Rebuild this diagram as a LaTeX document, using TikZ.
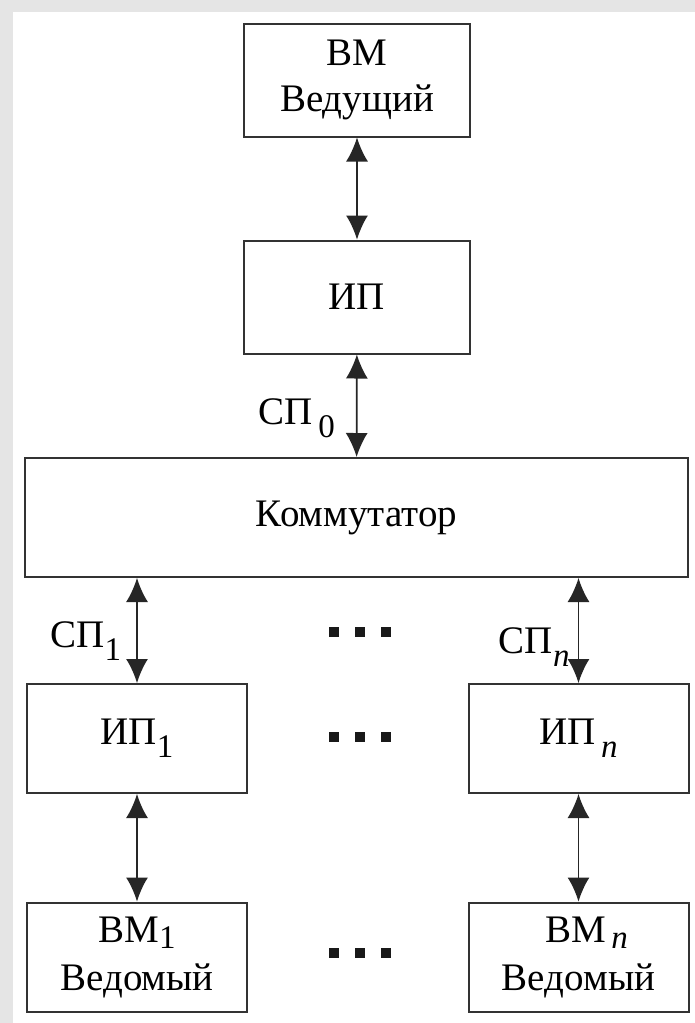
\documentclass[tikz,border=0pt]{standalone}
\usepackage{fontspec}
\setmainfont{Liberation Serif}
\usepackage{tikz}
\usetikzlibrary{arrows.meta,positioning}
\tikzset{>={Latex[length=24pt,width=22pt]}}
\tikzset{
  blk/.style={draw=black!80, line width=2pt, align=center, inner sep=0pt,
    font=\fontsize{39}{46}\selectfont},
  wide/.style={minimum width=226pt, minimum height=113pt},
  small/.style={minimum width=220pt, minimum height=109pt},
  link/.style={<->, line width=1.7pt, draw=black!85},
  lbl/.style={inner sep=0pt, font=\fontsize{39}{42}\selectfont}
}
\newcommand{\lidx}[2][13pt]{\raisebox{-#1}{\fontsize{33}{33}\selectfont #2}}

\begin{document}
\begin{tikzpicture}[x=1pt,y=-1pt]
            \fill[gray!20] (0,0) rectangle (695,1023);
            \fill[white] (13,12) rectangle (695,1023);
            \useasboundingbox (0,0) rectangle (695,1023);

            \node[blk, wide] (vm0) at (357,80) {ВМ\\Ведущий};
            \node[blk, wide] (ip0) at (357,297) {ИП};
            \node[blk, minimum width=663pt, minimum height=119pt] (kom) at (356.5,517.5) {Коммутатор};

            \node[blk, small] (ip1) at (137,738.5) {ИП\lidx{1}};
            \node[blk, small] (ipn) at (578.5,738.5) {ИП\lidx{\,\textit{n}}};
            \node[blk, small, font=\fontsize{39}{48}\selectfont] (vm1) at (137,957) {ВМ\lidx[6pt]{1}\\Ведомый};
            \node[blk, small, font=\fontsize{39}{48}\selectfont] (vmn) at (578.5,957) {\hspace{16pt}ВМ\lidx[6pt]{\,\textit{n}}\\Ведомый};

            \draw[link] (vm0) -- (ip0);
            \draw[link] (ip0) -- node[lbl, pos=0.62, left=21pt] {СП\lidx{\,0}} (kom);
            \draw[link] (ip1.north |- kom.south) -- node[lbl, pos=0.6, left=15pt] {СП\lidx{1}} (ip1.north);
            \draw[link] (ipn.north |- kom.south) -- node[lbl, pos=0.66, left=8pt] {СП\lidx{\textit{n}}} (ipn.north);
            \draw[link] (ip1) -- (vm1);
            \draw[link] (ipn) -- (vmn);

            \foreach \y in {632,737,953}
            \foreach \x in {334,360,386}
            {
            \fill[black!90] (\x-5,\y-5) rectangle (\x+5,\y+5);
            }
\end{tikzpicture}
\end{document}
